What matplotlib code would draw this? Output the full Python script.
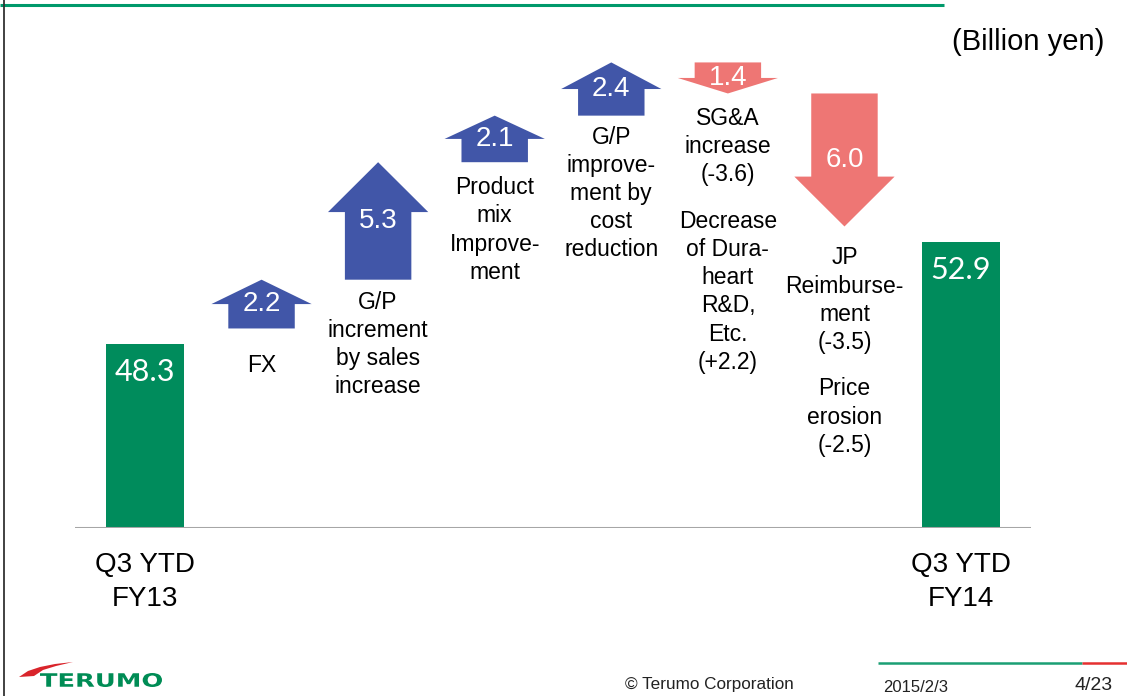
import matplotlib
matplotlib.use("Agg")
import matplotlib.pyplot as plt
import numpy as np
from matplotlib.patches import Polygon, PathPatch
from matplotlib.textpath import TextPath
from matplotlib.font_manager import FontProperties
from matplotlib.transforms import Affine2D

# DATA ########################################################################

START_LABEL = "Q3 YTD\nFY13"
END_LABEL = "Q3 YTD\nFY14"
START_VALUE = 48.3
END_VALUE = 52.9

STEP_VALUES = [2.2, 5.3, 2.1, 2.4, -1.4, -6.0]
STEP_TEXTS = [
    "FX",
    "G/P\nincrement\nby sales\nincrease",
    "Product\nmix\nImprove-\nment",
    "G/P\nimprove-\nment by\ncost\nreduction",
    "SG&A\nincrease\n(-3.6)\n\nDecrease\nof Dura-\nheart\nR&D,\nEtc.\n(+2.2)",
    "JP\nReimburse-\nment\n(-3.5)\n\nPrice\nerosion\n(-2.5)",
]
UNIT_TEXT = "(Billion yen)"

# STYLE #######################################################################

GREEN = "#008C5C"
BLUE = "#4156A8"
RED = "#EE7674"
BASE = 40.0
PX_PER_UNIT = 22.17
LIFT = 0.7            # arrows float a little above the running total
BODY_HW = 0.285
HEAD_HW = 0.43
HEAD_CAP = 4.5
TEXT_GAP = [1.13, 0.5, 0.63, 0.45, 0.6, 0.9]
LINE = 28 / PX_PER_UNIT
PARA = 47 / PX_PER_UNIT
FONT = "Liberation Sans"

W, H = 1127, 696
fig = plt.figure(figsize=(W / 100, H / 100), dpi=100)

# background / slide decorations in pixel space
bg = fig.add_axes([0, 0, 1, 1])
bg.set_xlim(0, W)
bg.set_ylim(H, 0)
bg.axis("off")
bg.plot([0, 944], [5, 5], color="#00996B", lw=2.2, solid_capstyle="butt")
bg.plot([4, 4], [0, H], color="#333333", lw=1.3)
bg.text(1104, 42, UNIT_TEXT, ha="right", va="center", fontsize=21, family=FONT)

# footer
bg.plot([878, 1082], [663, 663], color="#1A9F74", lw=1.8, solid_capstyle="butt")
bg.plot([1082, W], [663, 663], color="#E53030", lw=1.8, solid_capstyle="butt")
bg.text(625, 685, "\u00a9 Terumo Corporation", ha="left", va="center", fontsize=12.3, family=FONT, color="#222222")
bg.text(883, 687, "2015/2/3", ha="left", va="center", fontsize=12, family=FONT, color="#222222")
bg.text(1113, 685, "4/23", ha="right", va="center", fontsize=14, family=FONT, color="#222222")

tp = TextPath((0, 0), "TERUMO", size=10, prop=FontProperties(family="DejaVu Sans", weight="bold"))
ext = tp.get_extents()
tr = Affine2D().translate(-ext.x0, -ext.y0).scale(122 / ext.width, -14 / ext.height).translate(40, 687)
bg.add_patch(PathPatch(tr.transform_path(tp), fc="#008C55", ec="none"))
swoosh = [(19, 677), (28, 671), (40, 667), (55, 664), (73, 662), (56, 666), (43, 670), (34, 676)]
bg.add_patch(Polygon(swoosh, closed=True, fc="#D9242B", ec="none"))

# CHART #######################################################################

ax = fig.add_axes([75 / W, 168 / H, 956 / W, 510 / H])
ax.set_xlim(-0.6, 7.6)
ax.set_ylim(BASE, BASE + 510 / PX_PER_UNIT)
ax.axis("off")
ax.axhline(BASE, color="#A6A6A6", lw=2.2)

n = len(STEP_VALUES)
ends = [0, n + 1]
ax.bar(ends, [START_VALUE - BASE, END_VALUE - BASE], bottom=BASE, width=0.67, color=GREEN)
for x, v, lab in zip(ends, [START_VALUE, END_VALUE], [START_LABEL, END_LABEL]):
    ax.text(x, v - 1.25, f"{v:.1f}", ha="center", va="center", color="white", fontsize=22, family="Lato")
    ax.text(x, BASE - 1.1, lab, ha="center", va="top", fontsize=20, family=FONT, linespacing=1.4)

level = START_VALUE
for i, v in enumerate(STEP_VALUES):
    x = i + 1
    y0 = level + LIFT
    y1 = y0 + v
    s = np.sign(v)
    yb = y1 - s * 0.5 * min(abs(v), HEAD_CAP)
    pts = [(x - BODY_HW, y0), (x - BODY_HW, yb), (x - HEAD_HW, yb), (x, y1),
           (x + HEAD_HW, yb), (x + BODY_HW, yb), (x + BODY_HW, y0)]
    color = BLUE if v > 0 else RED
    ax.add_patch(Polygon(pts, closed=True, fc=color, ec="none"))
    ax.text(x, (y0 + y1) / 2, f"{abs(v):.1f}", ha="center", va="center", color="white", fontsize=20, family=FONT)

    # description, split into paragraphs
    y = min(y0, y1) - TEXT_GAP[i]
    for part in STEP_TEXTS[i].split("\n\n"):
        ax.text(x, y, part, ha="center", va="top", fontsize=16.5, family=FONT, linespacing=1.29)
        y -= part.count("\n") * LINE + PARA
    level += v

plt.savefig("out.png", dpi=100)
